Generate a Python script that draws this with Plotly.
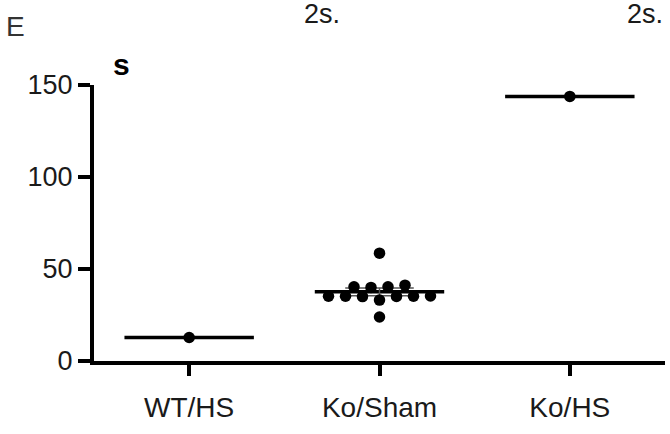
import numpy as np
import plotly.graph_objects as go

# ---- data ----
categories = ["WT/HS", "Ko/Sham", "Ko/HS"]
wt_hs = [12.8]
ko_sham = [58.6, 41.2, 40.3, 40.3, 40.0, 35.2, 35.2, 35.0, 35.3, 35.1, 35.2, 33.1, 23.9]
ko_hs = [143.8]
groups = [wt_hs, ko_sham, ko_hs]
y_ticks = [0, 50, 100, 150]

# ---- layout constants ----
W, H = 670, 434
ML, MR, MT, MB = 94, 5, 85, 73
PW, PH = W - ML - MR, H - MT - MB
Y_RANGE = [0, 150]
X_RANGE = [-0.5, 2.5]
px_per_unit = PH / (Y_RANGE[1] - Y_RANGE[0])
px_per_cat = PW / (X_RANGE[1] - X_RANGE[0])
SPACING_PX = 17      # horizontal spacing between swarm points
BIN_PX = 8           # vertical tolerance to group points into a row
HALF_LINE = 0.34     # half width of mean line in category units
HALF_CAP = 0.18


def swarm_offsets(vals):
    """Prism-like column scatter: bin points into rows, spread each row."""
    order = sorted(range(len(vals)), key=lambda i: -vals[i])
    bins, cur = [], []
    for i in order:
        if cur and (vals[cur[0]] - vals[i]) * px_per_unit > BIN_PX:
            bins.append(cur)
            cur = []
        cur.append(i)
    if cur:
        bins.append(cur)
    offs = [0.0] * len(vals)
    for b in bins:
        n = len(b)
        slots = [(k - (n - 1) / 2) * SPACING_PX for k in range(n)]
        slots_sorted = sorted(slots, key=lambda s: (abs(s), s))
        members = sorted(b, key=lambda i: vals[i])
        for i, s in zip(members, slots_sorted):
            offs[i] = s / px_per_cat
    return offs


fig = go.Figure()

for gi, vals in enumerate(groups):
    mean = float(np.mean(vals))
    # mean line
    fig.add_trace(go.Scatter(x=[gi - HALF_LINE, gi + HALF_LINE], y=[mean, mean],
                             mode="lines", line=dict(color="black", width=3.5),
                             hoverinfo="skip", showlegend=False))
    if len(vals) > 1:
        sem = float(np.std(vals, ddof=1) / np.sqrt(len(vals)))
        for yv in (mean - sem, mean + sem):
            fig.add_trace(go.Scatter(x=[gi - HALF_CAP, gi + HALF_CAP], y=[yv, yv],
                                     mode="lines", line=dict(color="#555", width=1.5),
                                     hoverinfo="skip", showlegend=False))
        fig.add_trace(go.Scatter(x=[gi, gi], y=[mean - sem, mean + sem],
                                 mode="lines", line=dict(color="#555", width=1.5),
                                 hoverinfo="skip", showlegend=False))
    offs = swarm_offsets(vals)
    fig.add_trace(go.Scatter(x=[gi + o for o in offs], y=vals, mode="markers",
                             marker=dict(color="black", size=11.5, line=dict(width=0)),
                             showlegend=False))

FONT = "Liberation Sans, Arial, Helvetica, sans-serif"

fig.update_layout(
    width=W, height=H,
    margin=dict(l=ML, r=MR, t=MT, b=MB, autoexpand=False),
    paper_bgcolor="white", plot_bgcolor="white",
    font=dict(family=FONT, color="#1a1a1a", size=27),
    showlegend=False,
)
fig.update_xaxes(
    range=X_RANGE, tickmode="array", tickvals=list(range(len(categories))),
    ticktext=categories, showgrid=False, zeroline=False,
    showline=True, linecolor="black", linewidth=4,
    ticks="outside", ticklen=11, tickwidth=4, tickcolor="black",
    ticklabelstandoff=7,
    tickfont=dict(size=28, family=FONT, color="#1a1a1a"),
)
fig.update_yaxes(
    range=Y_RANGE, tickmode="array", tickvals=y_ticks,
    showgrid=False, zeroline=False,
    showline=True, linecolor="black", linewidth=4,
    ticks="outside", ticklen=12, tickwidth=4, tickcolor="black",
    tickfont=dict(size=27, family=FONT, color="#1a1a1a"),
)


def px2paper(px, py):
    return (px - ML) / PW, (H - MB - py) / PH


annots = [
    ("E", 4, 27, 28, "#333", False),
    ("s", 111, 64, 30, "black", True),
    ("2s.", 302, 14, 27, "#1a1a1a", False),
    ("2s.", 625, 14, 27, "#1a1a1a", False),
]
for txt, px, py, sz, col, bold in annots:
    xp, yp = px2paper(px, py)
    fig.add_annotation(
        x=xp, y=yp, xref="paper", yref="paper", xanchor="left", yanchor="middle",
        text=f"<b>{txt}</b>" if bold else txt, showarrow=False,
        font=dict(size=sz, color=col, family=FONT),
    )

fig.write_html("out.html", config={"displayModeBar": False},
               post_script="document.body.style.margin='0';")
